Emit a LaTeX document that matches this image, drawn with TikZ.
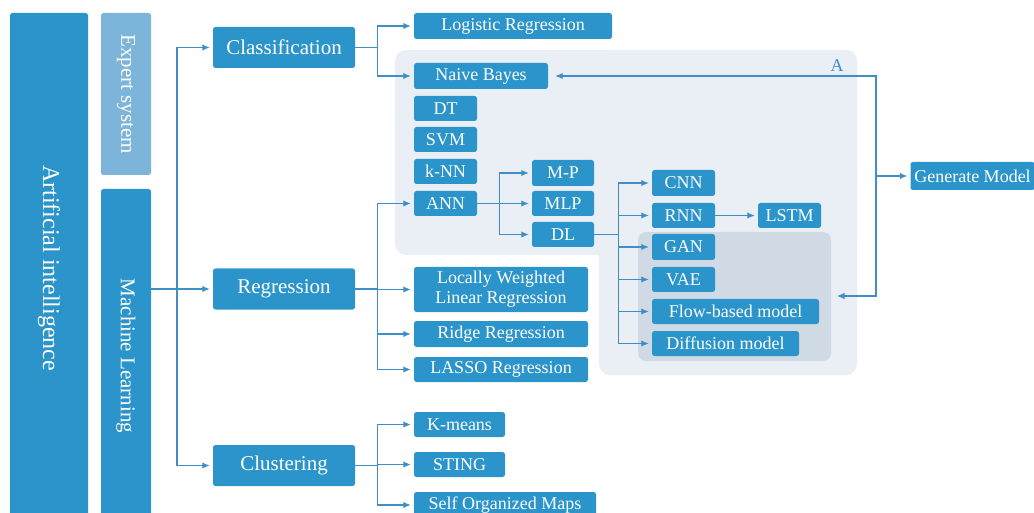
\documentclass[tikz,border=0pt]{standalone}
\usepackage{fontspec}
\setmainfont{Liberation Serif}
\usepackage{graphicx}
\usepackage{tikz}
\usetikzlibrary{arrows.meta,positioning,calc}
\definecolor{boxblue}{HTML}{2B94CA}
\definecolor{esblue}{HTML}{7DB4DA}
\definecolor{lineblue}{HTML}{3F8EC6}
\definecolor{panelA}{HTML}{E9EFF5}
\definecolor{panelB}{HTML}{D0DAE4}

\begin{document}
\begin{tikzpicture}[x=1pt,y=-1pt,
  box/.style={fill=boxblue,text=white,rounded corners=2.5pt,inner sep=0pt,align=center,
    font=\fontsize{18}{20}\selectfont},
  big/.style={box,minimum width=142pt,minimum height=41pt,font=\fontsize{21}{24}\selectfont},
  con/.style={draw=lineblue,line width=1.2pt,-{Latex[length=7.5pt,width=6.5pt]},shorten >=3pt},
  bus/.style={draw=lineblue,line width=1.2pt}]
\clip (0,0) rectangle (1034,513);

% panels
\fill[panelA,rounded corners=11pt] (395,50) rectangle (857,255);
\fill[panelA,rounded corners=11pt] (599,50) rectangle (857,375);
\fill[panelB,rounded corners=8pt] (638,232) rectangle (831,361);
\node[text=lineblue,font=\fontsize{18}{20}\selectfont] (lblA) at (837,66) {A};

% left columns
\node[box,minimum width=78pt,minimum height=510pt,font=\fontsize{24}{26}\selectfont] (ai) at (49,268)
  {\rotatebox{-90}{Artificial intelligence}};
\node[box,fill=esblue,minimum width=50pt,minimum height=162pt,font=\fontsize{21}{24}\selectfont] (es) at (126,94)
  {\rotatebox{-90}{Expert system}};
\node[box,minimum width=50pt,minimum height=334pt,font=\fontsize{21}{24}\selectfont] (ml) at (126,356)
  {\rotatebox{-90}{Machine Learning}};

% task boxes
\node[big] (cls) at (284,47.5) {Classification};
\node[big] (reg) at (284,289) {Regression};
\node[big] (clu) at (284,465.5) {Clustering};

% classification
\node[box,minimum width=198pt,minimum height=26pt] (lr) at (513,26) {Logistic Regression};
\node[box,minimum width=134pt,minimum height=26pt] (nb) at (481,76) {Naive Bayes};
\node[box,minimum width=63pt,minimum height=25pt] (dt) at (445.5,108.5) {DT};
\node[box,minimum width=63pt,minimum height=25pt] (svm) at (445.5,139.5) {SVM};
\node[box,minimum width=63pt,minimum height=25pt] (knn) at (445.5,171.5) {k-NN};
\node[box,minimum width=63pt,minimum height=25pt] (ann) at (445.5,203.5) {ANN};

\node[box,minimum width=62pt,minimum height=26pt] (mp) at (563,173) {M-P};
\node[box,minimum width=62pt,minimum height=25pt] (mlp) at (563,203.5) {MLP};
\node[box,minimum width=62pt,minimum height=25pt] (dl) at (563,234.5) {DL};

\node[box,minimum width=63pt,minimum height=26pt] (cnn) at (683.5,183) {CNN};
\node[box,minimum width=63pt,minimum height=25pt] (rnn) at (683.5,215.5) {RNN};
\node[box,minimum width=63pt,minimum height=26pt] (gan) at (683.5,247) {GAN};
\node[box,minimum width=63pt,minimum height=25pt] (vae) at (683.5,279.5) {VAE};
\node[box,minimum width=167pt,minimum height=25pt] (flow) at (735.5,311.5) {Flow-based model};
\node[box,minimum width=147pt,minimum height=25pt] (diff) at (725.5,343.5) {Diffusion model};
\node[box,minimum width=63pt,minimum height=25pt] (lstm) at (789.5,215.5) {LSTM};

\node[box,minimum width=124pt,minimum height=28pt] (gen) at (972.5,176) {Generate Model};

% regression
\node[box,minimum width=174pt,minimum height=45pt] (lwlr) at (501,289.5) {Locally Weighted\\Linear Regression};
\node[box,minimum width=174pt,minimum height=26pt] (ridge) at (501,334) {Ridge Regression};
\node[box,minimum width=174pt,minimum height=25pt] (lasso) at (501,369.5) {LASSO Regression};

% clustering
\node[box,minimum width=91pt,minimum height=25pt] (km) at (459.5,424.5) {K-means};
\node[box,minimum width=91pt,minimum height=25pt] (sting) at (459.5,464.5) {STING};
\node[box,minimum width=182pt,minimum height=26pt] (som) at (505,505) {Self Organized Maps};

% connectors
\coordinate (mlbus) at (177,289);
\draw[con] (ml.east |- reg.west) -- (reg.west);
\draw[con] (mlbus) |- (cls.west);
\draw[con] (mlbus) |- (clu.west);

\coordinate (cbus) at ($(cls.east)+(22,0)$);
\draw[bus] (cls.east) -- (cbus);
\foreach \t in {lr,nb} \draw[con] (cbus) |- (\t.west);

\coordinate (rbus) at ($(reg.east)+(22,0)$);
\draw[bus] (reg.east) -- (rbus);
\foreach \t in {ann,lwlr,ridge,lasso} \draw[con] (rbus) |- (\t.west);

\coordinate (kbus) at ($(clu.east)+(22,0)$);
\draw[bus] (clu.east) -- (kbus);
\foreach \t in {km,sting,som} \draw[con] (kbus) |- (\t.west);

\coordinate (abus) at ($(ann.east)+(22,0)$);
\draw[bus] (ann.east) -- (abus);
\foreach \t in {mp,mlp,dl} \draw[con] (abus) |- (\t.west);

\coordinate (dbus) at ($(dl.east)+(24,0)$);
\draw[bus] (dl.east) -- (dbus);
\foreach \t in {cnn,rnn,gan,vae,flow,diff} \draw[con] (dbus) |- (\t.west);

\draw[con] (rnn) -- (lstm);

\coordinate (gbus) at (876,176);
\coordinate (genin) at (831,296);
\draw[con] (gbus) -- (gen.west);
\draw[con,shorten >=7pt] (gbus) |- (nb.east);
\draw[con,shorten >=6pt] (gbus) |- (genin);
\end{tikzpicture}
\end{document}
